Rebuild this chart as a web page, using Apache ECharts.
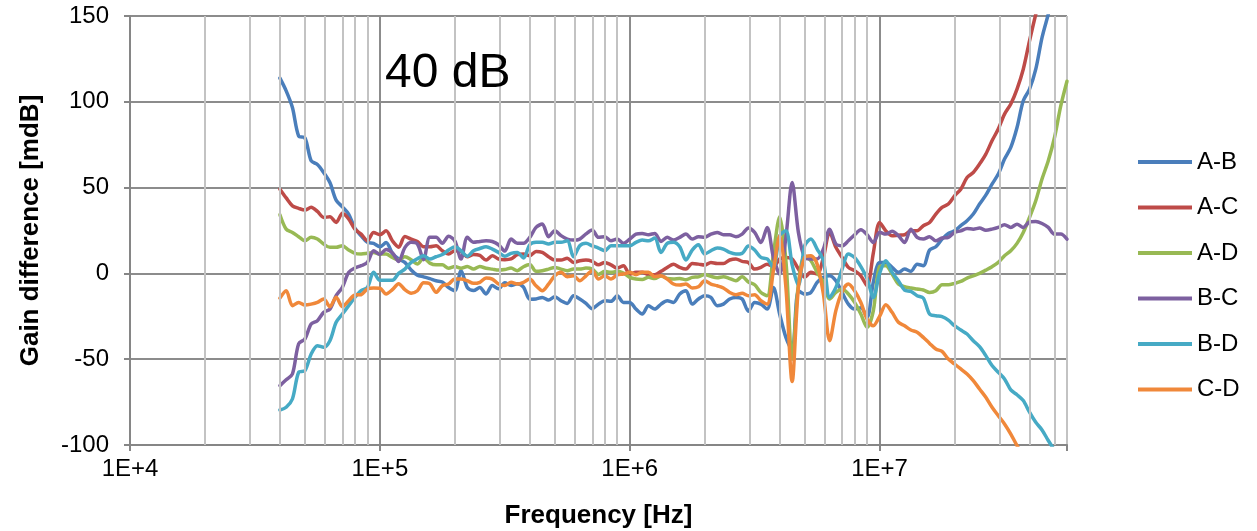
<!DOCTYPE html>
<html><head><meta charset="utf-8">
<script src="https://cdn.jsdelivr.net/npm/echarts@6/dist/echarts.min.js"></script>
<style>html,body{margin:0;padding:0;background:#fff}#c{width:1257px;height:531px}</style>
</head><body><div id="c"></div>
<script>
// Frequencies (Hz), shared by all series
const freqHz = [39810,42170,44670,47320,50120,53090,56230,59570,63100,66830,70790,74990,79430,84140,89130,94410,
100000,105900,112200,118900,125900,133400,141300,149600,158500,167900,177800,188400,199500,211300,223900,237100,251200,266100,281800,298500,316200,335000,354800,375800,398100,421700,446700,473200,501200,530900,562300,595700,631000,668300,707900,749900,794300,841400,891300,944100,
1000000,1059000,1122000,1189000,1259000,1334000,1413000,1496000,1585000,1679000,1778000,1884000,1995000,2113000,2239000,2371000,2512000,2661000,2818000,2985000,3162000,3350000,3548000,3758000,3981000,4217000,4467000,4732000,5012000,5309000,5623000,5957000,6310000,6683000,7079000,7499000,7943000,8414000,8913000,9441000,
10000000,10590000,11220000,11890000,12590000,13340000,14130000,14960000,15850000,16790000,17780000,18840000,19950000,21130000,22390000,23710000,25120000,26610000,28180000,29850000,31620000,33500000,35480000,37580000,39810000,42170000,44670000,47320000,50120000,53090000,56230000];

const AB = [113.8,106.4,96.7,80,79,65.6,63.5,58.8,53,42.7,38.8,34.6,26.4,21.9,18.1,17.5,15.5,18,11.7,8.4,6.4,2,-1,-2,-3,-4.3,-5,-8.2,-10,1.6,-8.2,-10,-8.2,-12,-7,-9,-5.5,-7,-6,-8,-15,-14.9,-14,-15.5,-13.6,-15.9,-17.5,-13,-14.9,-17.5,-20.6,-17.9,-15.9,-16.3,-13,-16.9,-16.9,-20.8,-23.7,-18.8,-20.8,-17.9,-15.9,-16.9,-12,-10.1,-17.9,-14.9,-13,-14,-18.8,-17.9,-14.9,-14,-14.9,-22,-16.9,-17.9,-20.8,-8.2,-23.7,-37.3,-45,-10.1,-12,-11.1,-5.2,-2.3,-1.4,-4.3,-11.1,-17.9,-20.8,-20,-25.6,-5,6.4,6.4,3.5,0.6,2.5,1.2,5.4,4.5,13.6,15.5,20,23.3,24.8,27.8,30.7,34.6,40.4,45.6,52,57.9,66.6,73.4,85,100.6,107.4,119,137.4,151,165,180,195];
const AC = [49.1,44,39.4,37.9,36.9,38.5,36.1,32.6,33,29.7,35,31.7,25.8,22.9,19,23.9,22.5,24.8,19,15.3,21.5,20,18.6,15.5,15.5,16.1,13.2,11.3,13.2,12.8,9.7,11,10.5,7.8,10.3,8.4,8,8.4,10.9,11.3,10.3,12.8,12.2,9.7,7.8,7.8,8.9,6.4,7.4,7.8,7,5,6.4,5,3.1,4.5,-0.4,0.6,0.6,-0.8,-0.8,1.2,3.5,5.4,3.5,2.5,5.8,5.4,4.9,6.4,5.8,5.8,7.8,8.4,7,6.4,2.5,3.5,5.4,3.9,8.4,9.3,8.4,2.5,-2.3,0.6,-0.4,9.3,24,15.2,9.3,3.5,1.6,-1.4,-7.2,12,29.7,24.8,21.9,22.3,22.5,24.8,24.8,27.8,29.7,34.6,38.5,40.4,45.2,49.1,55.9,58.8,63.7,69.5,77.3,84.1,92.8,98.7,107.4,119,135.5,151,165,180,195,210,225];
const AD = [34.2,25.8,23.9,21.4,19,21,20,17.1,15.2,15.2,16.1,13.6,11.7,11.3,11.7,12.2,11.3,11.3,9.3,7.8,9.7,8,5.5,9,6,5,5,3,4,3,4,2.5,4,3,2.5,2,2.3,3.1,1.6,3.9,5.2,1.2,1.6,2.5,3.5,2.5,1.6,2.5,2.5,3.1,2.5,-0.6,1.2,0.6,1.2,0.2,-2.3,-3.3,-3.5,-2.3,-3,-1.5,-3,-3.3,-3,-3.7,-2.3,-2,-0.6,-1.7,-2.5,-1.9,-3,-4.3,-1.9,-5,-6.6,-11.1,-13,11.3,33,7.4,-50,-6.2,10.3,7.4,0.6,-5.2,-14.9,-11.1,-9.1,-12,-16.9,-23.7,-31.4,-21.7,4,4.5,-0.4,-6.2,-7.8,-8.5,-9.1,-9.7,-11.1,-10.1,-6.6,-6.6,-5.8,-4.7,-2.7,-1.4,0,1.9,3.9,6.4,10.3,13.2,17.5,23.9,32.6,42.3,55,65.6,79.2,97.6,112];
const BC = [-65.4,-62,-58.6,-41,-38.2,-29.5,-27.6,-22.7,-20.8,-13,-8.1,0.6,3.1,4.5,6.4,13.2,11,14,12,7,15,18.1,17.1,8,21,21,17.5,21.6,19,8.4,21,18.1,18.6,19,18.6,16.7,13,20,17.5,17.5,21,26.8,28.8,21.4,24.9,22,20,19.4,20,23,25.3,21,21.4,19,20,17.5,20,22.9,23.3,22.5,23.3,18.6,21,19.4,21,22.9,20,21.4,21,22.9,23.9,22.5,22.5,21.4,22.9,26.5,23.9,18,26.8,9.3,-0.4,21,53,23.9,9.3,8.4,8.4,14.2,25.8,17.1,16.1,19,22.5,25.4,22.5,18,24,22.9,24.5,22,18,25.8,21,20,21.4,19,20.6,21,23.9,24.8,26.2,25.8,26.4,25.2,25.8,26.8,28.4,26.8,28.7,26.8,30,30.3,29.1,26.8,22.9,22.9,20];
const BD = [-79.6,-78,-73.2,-57.6,-56.7,-47,-42.1,-43.1,-39.2,-28.5,-23.7,-18.8,-14,-10.1,-8.2,0.6,-4,-4,-4,0,2.5,6.4,8.5,10.3,8.4,9.7,11,13.6,15.5,13.2,10,13.2,14.5,15.5,14.2,12.2,10,11.7,12.2,9,16.7,18.1,18.1,17.1,18.1,18.1,19,9.7,16.1,17.5,16.1,14.8,13.2,16.1,16.1,16.1,16.1,18.1,19.4,19,20.6,12.2,17.5,18.1,15.5,7.8,13.6,16.7,11.3,13.2,14.8,14.2,12.2,11.3,11.7,16,13.6,9.3,8.4,3.5,21.9,24.9,5,-7,16.1,20,14.2,7.4,-14,-8.2,2.5,11.3,9.3,4,-3,-14,0,7.4,0.6,-4.3,-9.7,-10.5,-13,-14.4,-23.7,-24.7,-25.2,-27.2,-30.5,-33,-35.3,-39.2,-42.7,-47.9,-53.7,-57.6,-61.5,-67.9,-70.7,-74.1,-80.9,-86.8,-91.2,-97.4,-103,-108,-113];
const CD = [-14.4,-10.1,-18.8,-16.9,-18.4,-17.9,-16.9,-14.9,-19.4,-13.9,-19.4,-15.9,-12.6,-12.4,-9.1,-8.5,-8.6,-12,-9.5,-6,-9.5,-11.6,-10.1,-5.5,-6,-11,-7.2,-6.2,-3.3,-3.3,-4.3,-5.8,-5.2,-2.7,-3.3,-6.2,-7,-5.2,-6.2,-5.2,-3.3,-7.2,-10.1,-6.2,-1.4,0.6,-1.9,-1.4,-4.3,-1.4,1.6,-3.3,-1.4,-3.3,-0.8,-0.4,0.6,-0.8,0.6,0.6,-1.9,-1.4,-3.3,-6.2,-6.8,-6.2,-8.5,-7.8,-4.3,-6.2,-7.2,-8.5,-11.1,-12.4,-11.6,-13,-12.4,-15.9,-17.9,1.6,22,-8.2,-63,-8.2,9.3,10.3,5.4,-12,-39.2,-21.7,-10.5,-6.2,-10.1,-17,-26.6,-30.5,-25,-18.3,-22.7,-28.5,-30.5,-33,-34.3,-37.3,-40.8,-44.1,-45.5,-49.9,-52.8,-55.7,-58.6,-62.5,-67.4,-72.2,-78,-82.9,-87.7,-93.6,-100.4,-106,-112,-118,-124,-130,-136,-142,-148];

const seriesNames = ['A-B','A-C','A-D','B-C','B-D','C-D'];
const seriesValues = [AB, AC, AD, BC, BD, CD];
const seriesColors = ['#4A7EBB','#BE4B48','#98B954','#7D60A0','#46AAC5','#F0883A'];
const xTickLabels = ['1E+4','1E+5','1E+6','1E+7'];
const minorGridHz = [2e4,3e4,4e4,5e4,6e4,7e4,8e4,9e4,2e5,3e5,4e5,5e5,6e5,7e5,8e5,9e5,2e6,3e6,4e6,5e6,6e6,7e6,8e6,9e6,2e7,3e7,4e7,5e7];
const annotation = '40 dB';

const FONT = "'Liberation Sans', Arial, sans-serif";
const chart = echarts.init(document.getElementById('c'), null, {renderer:'canvas'});

const series = [{
  type:'line', name:'_grid', data:[], silent:true, z:1,
  markLine:{silent:true, symbol:'none', animation:false, label:{show:false},
    lineStyle:{color:'#C3C3C3', width:2, type:'solid'},
    data: minorGridHz.map(f => ({xAxis: Math.log10(f)}))}
}];
seriesNames.forEach((n,k) => {
  series.push({
    type:'line', name:n, z:3, showSymbol:false, symbol:'none', smooth:0.3,
    data: freqHz.map((f,i) => [Math.log10(f), seriesValues[k][i]]),
    lineStyle:{width:3.5, color:seriesColors[k], cap:'round', join:'round'},
    itemStyle:{color:seriesColors[k]}
  });
});

chart.setOption({
  animation:false,
  backgroundColor:'#fff',
  textStyle:{fontFamily:FONT},
  grid:{left:130, right:190, top:16, bottom:86, containLabel:false, outerBoundsMode:'none'},
  xAxis:{
    type:'value', min:4, max:7.75, interval:1,
    name:'Frequency [Hz]', nameLocation:'middle', nameGap:58,
    nameTextStyle:{fontSize:26, fontWeight:'bold', color:'#000', fontFamily:FONT},
    axisLine:{show:true, onZero:false, lineStyle:{color:'#868686', width:2}},
    axisTick:{show:true, length:6, lineStyle:{color:'#868686', width:2}},
    axisLabel:{fontSize:24, color:'#000', margin:12, fontFamily:FONT,
      formatter: v => { const r = Math.round(v); return Math.abs(v-r)<1e-6 && r-4>=0 && r-4<xTickLabels.length ? xTickLabels[r-4] : ''; }},
    splitLine:{show:true, lineStyle:{color:['#8C8C8C','#8C8C8C','#8C8C8C','#8C8C8C','#C3C3C3'], width:2}}
  },
  yAxis:{
    type:'value', min:-100, max:150, interval:50,
    name:'Gain difference [mdB]', nameLocation:'middle', nameGap:86,
    nameTextStyle:{fontSize:26, fontWeight:'bold', color:'#000', fontFamily:FONT},
    axisLine:{show:true, lineStyle:{color:'#868686', width:2}},
    axisTick:{show:true, length:6, lineStyle:{color:'#868686', width:2}},
    axisLabel:{fontSize:24, color:'#000', margin:21, fontFamily:FONT},
    splitLine:{show:true, lineStyle:{color:'#8C8C8C', width:2}}
  },
  legend:{
    data:seriesNames, orient:'vertical', left:1138, top:150, padding:0,
    icon:'rect', itemWidth:54, itemHeight:4, itemGap:21.5,
    textStyle:{fontSize:24, color:'#000', fontFamily:FONT}
  },
  graphic:[{type:'text', left:385, top:50, silent:true, z:10,
    style:{text:annotation, fontSize:48, fill:'#000', fontFamily:FONT}}],
  series: series
});
</script>
</body></html>
